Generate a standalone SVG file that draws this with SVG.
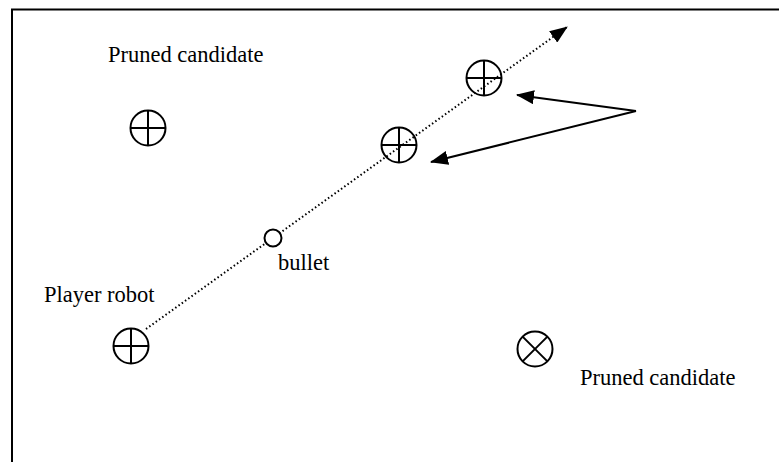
<svg xmlns="http://www.w3.org/2000/svg" width="779" height="462" viewBox="0 0 779 462">
  <style>
    .lbl { font-family: "Liberation Serif", "DejaVu Serif", serif; font-size: 22.5px; fill: #000; }
    .mark { fill: none; stroke: #000; stroke-width: 2; }
    .path { fill: none; stroke: #000; stroke-width: 2; stroke-dasharray: 1.5 2.5; }
    .ptr { fill: none; stroke: #000; stroke-width: 2; }
  </style>
  <defs>
    <marker id="head" markerWidth="18" markerHeight="14" refX="17" refY="7" orient="auto" markerUnits="userSpaceOnUse">
      <path d="M0,0 L18,7 L0,14 Z" fill="#000"/>
    </marker>
    <g id="cross">
      <circle r="17.5" class="mark"/>
      <line x1="-17.5" y1="0" x2="17.5" y2="0" class="mark"/>
      <line x1="0" y1="-17.5" x2="0" y2="17.5" class="mark"/>
    </g>
  </defs>

  <!-- frame -->
  <path d="M12,470 L12,9.5 L790,9.5" fill="none" stroke="#000" stroke-width="2"/>

  <!-- connectors -->
  <g id="connectors">
    <line x1="146" y1="329" x2="567" y2="27" class="path" marker-end="url(#head)"/>
    <line x1="636" y1="111" x2="517" y2="95" class="ptr" marker-end="url(#head)"/>
    <line x1="636" y1="111" x2="431" y2="162" class="ptr" marker-end="url(#head)"/>
  </g>

  <g id="pruned-top">
    <use href="#cross" x="148" y="128"/>
    <text class="lbl" x="108" y="62">Pruned candidate</text>
  </g>

  <g id="player-robot">
    <use href="#cross" x="131" y="346"/>
    <text class="lbl" x="44" y="302">Player robot</text>
  </g>

  <g id="bullet">
    <circle cx="273" cy="238" r="8.5" fill="#fff" stroke="#000" stroke-width="2"/>
    <text class="lbl" x="278" y="270">bullet</text>
  </g>

  <g id="candidate-near">
    <use href="#cross" x="399" y="145"/>
  </g>

  <g id="candidate-far">
    <use href="#cross" x="484" y="78"/>
  </g>

  <g id="pruned-bottom">
    <circle cx="535" cy="349" r="17.5" class="mark"/>
    <line x1="522.6" y1="336.6" x2="547.4" y2="361.4" class="mark"/>
    <line x1="547.4" y1="336.6" x2="522.6" y2="361.4" class="mark"/>
    <text class="lbl" x="580" y="385">Pruned candidate</text>
  </g>
</svg>
